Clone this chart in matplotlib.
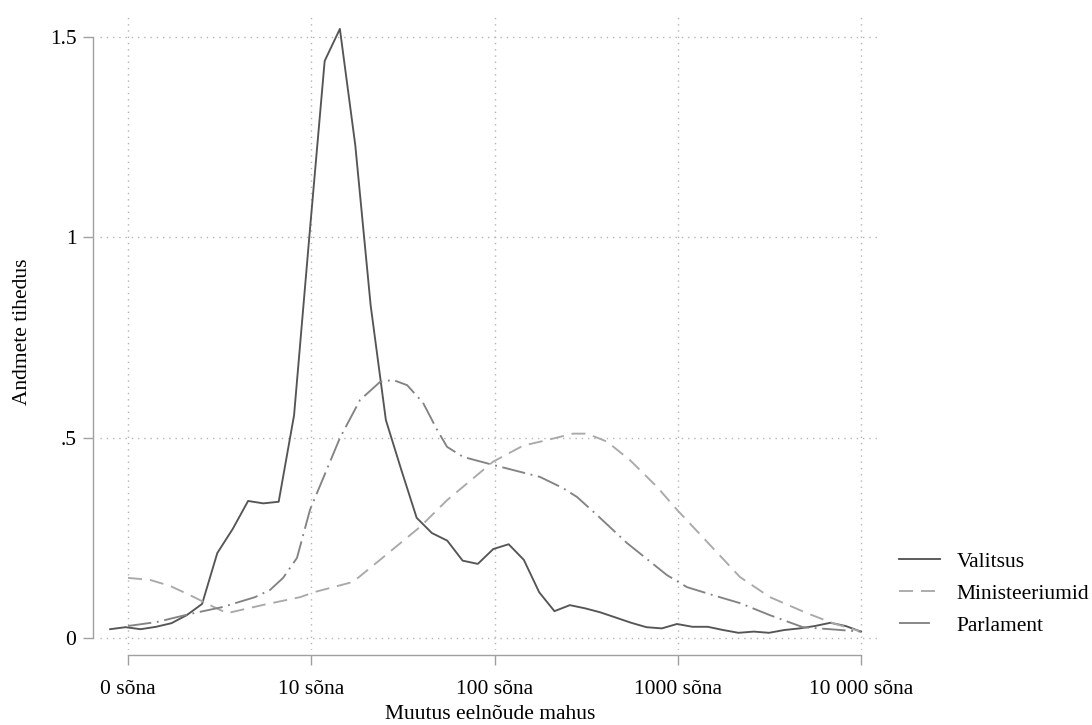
import matplotlib
matplotlib.use('Agg')
import matplotlib.pyplot as plt

# Andmete tihedus, x-telg on log10(sõnade arv)
x_valitsus = [-0.098, -0.014, 0.069, 0.153, 0.237, 0.320, 0.404, 0.487, 0.571, 0.655,
              0.738, 0.822, 0.906, 0.989, 1.073, 1.156, 1.240, 1.324, 1.407, 1.491,
              1.575, 1.658, 1.742, 1.826, 1.909, 1.993, 2.077, 2.160, 2.244, 2.327,
              2.411, 2.495, 2.578, 2.662, 2.746, 2.829, 2.913, 2.996, 3.080, 3.164,
              3.247, 3.331, 3.415, 3.498, 3.582, 3.665, 3.749, 3.833, 3.916, 4.000]
y_valitsus = [0.022, 0.027, 0.022, 0.028, 0.037, 0.057, 0.085, 0.212, 0.272, 0.342,
              0.336, 0.340, 0.556, 1.000, 1.440, 1.520, 1.230, 0.830, 0.544, 0.420,
              0.300, 0.262, 0.243, 0.193, 0.185, 0.222, 0.234, 0.195, 0.114, 0.067,
              0.082, 0.074, 0.064, 0.051, 0.038, 0.027, 0.024, 0.035, 0.028, 0.028,
              0.020, 0.013, 0.016, 0.013, 0.020, 0.024, 0.030, 0.038, 0.030, 0.016]

x_ministeerium = [0.0, 0.12, 0.229, 0.338, 0.447, 0.54, 0.731, 0.939, 1.02, 1.228,
                  1.375, 1.593, 1.741, 1.992, 2.156, 2.287, 2.428, 2.505, 2.614, 2.739,
                  2.887, 2.996, 3.16, 3.34, 3.503, 3.705, 3.847, 4.0]
y_ministeerium = [0.150, 0.145, 0.130, 0.107, 0.082, 0.062, 0.082, 0.102, 0.115, 0.140,
                  0.195, 0.277, 0.344, 0.440, 0.480, 0.494, 0.510, 0.510, 0.490, 0.444,
                  0.377, 0.320, 0.240, 0.152, 0.102, 0.062, 0.037, 0.016]

x_parlament = [0.0, 0.158, 0.338, 0.513, 0.693, 0.775, 0.846, 0.922, 0.993, 1.157,
               1.266, 1.375, 1.446, 1.523, 1.61, 1.686, 1.741, 1.828, 1.992, 2.248,
               2.374, 2.45, 2.559, 2.723, 2.941, 3.05, 3.192, 3.34, 3.503, 3.683,
               3.83, 4.0]
y_parlament = [0.030, 0.040, 0.060, 0.077, 0.102, 0.120, 0.150, 0.200, 0.320, 0.500,
               0.594, 0.639, 0.644, 0.631, 0.587, 0.520, 0.477, 0.452, 0.432, 0.402,
               0.374, 0.352, 0.307, 0.237, 0.157, 0.127, 0.107, 0.087, 0.057, 0.027,
               0.022, 0.016]

x_ticks = [0, 1, 2, 3, 4]
x_labels = ['0 sõna', '10 sõna', '100 sõna', '1000 sõna', '10 000 sõna']
y_ticks = [0, 0.5, 1, 1.5]
y_labels = ['0', '.5', '1', '1.5']

plt.rcParams['font.family'] = ['Liberation Serif', 'DejaVu Serif']
plt.rcParams['font.size'] = 15.5

fig = plt.figure(figsize=(10.92, 7.25), dpi=100)
ax = fig.add_axes([0.0916, 0.1034, 0.7143, 0.8772])

ax.plot(x_valitsus, y_valitsus, color='#555555', lw=1.35, label='Valitsus')
ax.plot(x_ministeerium, y_ministeerium, color='#a9a9a9', lw=1.35,
        dashes=(7.5, 4.2), label='Ministeeriumid')
ax.plot(x_parlament, y_parlament, color='#838383', lw=1.35,
        dashes=(12.5, 3.0, 1.0, 3.0), label='Parlament')

ax.set_xlim(-0.153, 4.104)
ax.set_ylim(-0.03, 1.557)

ax.set_xticks(x_ticks)
ax.set_xticklabels(x_labels)
ax.set_yticks(y_ticks)
ax.set_yticklabels(y_labels)

# punktiirvõrk
ax.grid(True, color='#b5b5b5', linestyle=(0, (1, 3.5)), linewidth=1.0)

for s in ['top', 'right']:
    ax.spines[s].set_visible(False)
ax.spines['left'].set_position(('outward', 5))
ax.spines['bottom'].set_position(('outward', 3.6))
ax.spines['left'].set_bounds(0, 1.5)
ax.spines['bottom'].set_bounds(0, 4)
for s in ['left', 'bottom']:
    ax.spines[s].set_color('#a0a0a0')
    ax.spines[s].set_linewidth(1.0)

ax.tick_params(axis='both', color='#a0a0a0', length=7, width=1.0, labelcolor='black')
ax.tick_params(axis='y', pad=5)
ax.tick_params(axis='x', pad=11)

ax.set_xlabel('Muutus eelnõude mahus', labelpad=4)
ax.set_ylabel('Andmete tihedus', labelpad=13)

leg = fig.legend(loc='center left', bbox_to_anchor=(0.8235, 0.181), frameon=False,
                 handlelength=1.9, handletextpad=0.75, labelspacing=0.55,
                 borderaxespad=0, borderpad=0)
# legendis näidatakse parlamendi joonest ainult pikka kriipsu
leg.get_lines()[2].set_dashes((16.5, 20.0))

plt.savefig('out.png', dpi=100)
plt.close()
